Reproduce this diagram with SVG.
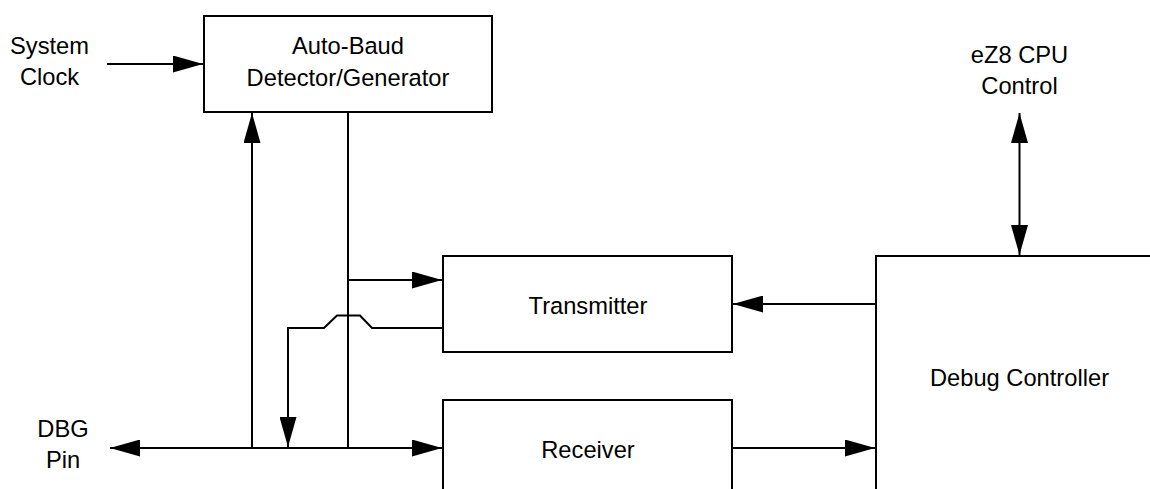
<svg xmlns="http://www.w3.org/2000/svg" width="1150" height="489" viewBox="0 0 1150 489">
<style>
.box{fill:#fff;stroke:#000;stroke-width:2}
.ln{fill:none;stroke:#000;stroke-width:2}
text{font-family:"Liberation Sans",Arial,sans-serif;font-size:23.7px;fill:#000;text-anchor:middle}
</style>
<defs>
<marker id="ah" markerUnits="userSpaceOnUse" markerWidth="30" markerHeight="17" refX="30" refY="8.5" orient="auto-start-reverse" viewBox="0 0 30 17">
<path d="M0,0 L30,8.5 L0,17 z" fill="#000"/>
</marker>
</defs>
<rect width="1150" height="489" fill="#fff"/>
<g id="connectors">
<path class="ln" d="M107,64 H203" marker-end="url(#ah)"/>
<path class="ln" d="M252,448 V113" marker-end="url(#ah)"/>
<path class="ln" d="M348,112 V448"/>
<path class="ln" d="M348,280 H442" marker-end="url(#ah)"/>
<path class="ln" d="M443,328 H372 L360,315.5 H337 L324,328 H288 V447" marker-end="url(#ah)"/>
<path class="ln" d="M110,448 H442" marker-start="url(#ah)" marker-end="url(#ah)"/>
<path class="ln" d="M876,304 H733" marker-end="url(#ah)"/>
<path class="ln" d="M732,448 H875" marker-end="url(#ah)"/>
<path class="ln" d="M1019.5,113 V255" marker-start="url(#ah)" marker-end="url(#ah)"/>
</g>
<g id="autobaud">
<rect class="box" x="204" y="16" width="288" height="96"/>
<text x="348" y="54.3">Auto-Baud</text>
<text x="348" y="86">Detector/Generator</text>
</g>
<g id="sysclock">
<text x="49.5" y="54">System</text>
<text x="49.5" y="85">Clock</text>
</g>
<g id="transmitter">
<rect class="box" x="443" y="256" width="289" height="96"/>
<text x="588" y="314.3">Transmitter</text>
</g>
<g id="receiver">
<rect class="box" x="443" y="400" width="289" height="96"/>
<text x="588" y="458.3">Receiver</text>
</g>
<g id="debug">
<rect class="box" x="876" y="256" width="300" height="260"/>
<text x="1019.5" y="386">Debug Controller</text>
</g>
<g id="cpu">
<text x="1019.5" y="63.3">eZ8 CPU</text>
<text x="1019.5" y="94">Control</text>
</g>
<g id="dbgpin">
<text x="63" y="436.7">DBG</text>
<text x="63" y="467.7">Pin</text>
</g>
</svg>
